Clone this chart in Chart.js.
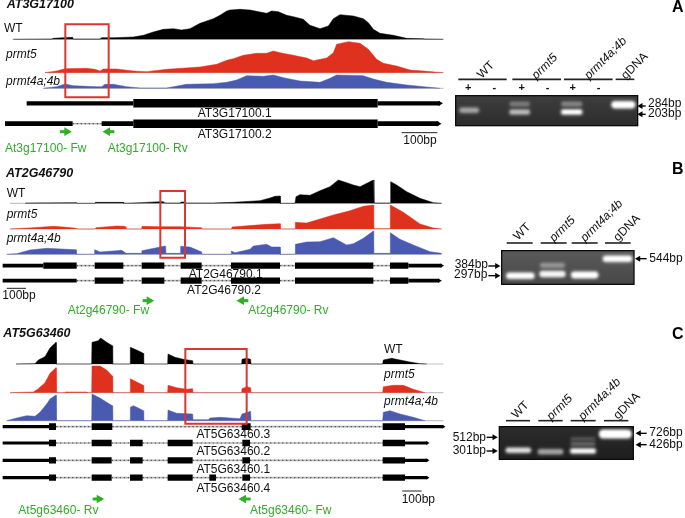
<!DOCTYPE html>
<html><head><meta charset="utf-8">
<style>html,body{margin:0;padding:0;background:#fff}canvas{display:block;filter:blur(0.35px)}</style>
<script src="https://cdn.jsdelivr.net/npm/chart.js@4"></script></head>
<body><canvas id="c" width="685" height="518"></canvas>
<script>
// ---- coverage, panel A (position along gene, relative read depth)
const aPosWT=[40,155,160,190,218,220,300,305,345,400,430,460,490,520,545,570,600,640,660,680,690,720,750,780,800,815,835,860,880,910,930,960,985,1000,1020,1060,1090,1105,1120,1140,1180,1220,1270,1275,1330];
const aWT=[0,1,3,5,6,1,1,5,5,7,12,22,30,32,28,32,48,62,72,85,88,90,88,82,78,85,83,72,68,60,42,32,40,62,74,70,62,50,30,18,12,3,2,1,0];
const aPosP5=[135,170,195,260,285,300,310,350,400,440,500,600,650,680,700,730,770,800,820,840,880,920,940,980,1000,1010,1045,1080,1105,1130,1150,1190,1230,1280,1330];
const aP5=[0,5,12,13,10,5,11,11,5,3,10,17,25,37,42,52,58,58,65,60,52,44,36,44,60,85,93,88,70,40,28,20,8,4,0];
const aPosP4=[130,170,195,220,260,290,305,315,340,380,420,500,560,640,680,710,740,790,820,850,900,960,990,1010,1090,1120,1160,1220,1280,1320];
const aP4=[0,5,13,8,6,5,5,12,12,5,1,1,12,14,18,25,38,36,40,32,22,18,30,40,38,28,18,10,4,0];
// ---- coverage, panel B
const bPosWT=[75,80,230,231,285,286,370,371,425,480,490,495,540,542,555,560,640,700,780,810,825,840,841,885,888,900,930,960,990,1015,1040,1060,1080,1120,1122,1170,1172,1190,1220,1260,1300,1325];
const bWT=[0,1,2,0,0,3,3,0,2,5,5,1,1,4,4,1,1,3,8,16,21,22,0,0,20,26,24,38,50,70,62,55,50,70,1,1,65,55,35,15,2,0];
const bPosP5=[30,100,160,200,228,230,285,288,350,375,378,425,426,480,540,605,606,695,696,760,800,840,841,885,886,920,960,1000,1050,1090,1120,1121,1170,1171,1210,1260,1300,1325];
const bP5=[0,4,8,5,2,0,0,4,9,8,0,0,8,7,7,4,0,0,6,11,14,16,0,0,20,18,30,42,55,68,72,1,1,72,50,15,3,0];
const bPosP4=[20,50,90,140,200,228,229,283,284,300,350,365,378,425,426,480,495,497,540,542,570,605,606,693,694,705,750,760,800,815,840,841,885,886,920,960,1000,1040,1060,1090,1120,1121,1170,1171,1200,1240,1290,1325];
const bP4=[0,2,13,18,15,14,0,0,14,7,11,12,3,3,11,22,25,3,3,24,22,7,0,0,10,5,15,25,30,22,22,0,0,30,37,38,50,28,32,48,70,3,3,65,45,28,8,3];
// ---- coverage, panel C
const cPosWT=[48,105,115,135,150,168,169,275,276,295,302,320,337,338,390,391,410,430,431,503,504,525,550,578,579,725,726,740,752,753,1148,1150,1175,1200,1230,1260,1280];
const cWT=[0,1,12,22,48,65,0,0,65,70,78,65,55,0,0,50,42,32,0,0,30,20,14,10,0,0,14,17,14,0,0,12,17,12,6,1,0];
const cPosP5=[30,100,115,135,150,168,169,195,196,260,261,275,276,300,320,337,338,390,391,410,430,431,503,504,530,560,578,579,725,726,740,752,753,1148,1150,1180,1210,1240,1275];
const cP5=[0,2,12,30,58,75,0,0,2,2,0,0,80,80,68,50,0,0,42,32,22,0,0,22,15,10,12,0,0,12,18,15,0,0,18,22,22,10,0];
const cPosP4=[20,50,80,105,120,140,150,168,169,275,276,300,320,337,338,390,391,400,415,430,431,503,504,530,578,579,625,630,660,720,726,752,753,1148,1150,1170,1200,1240,1275];
const cP4=[0,8,15,13,25,50,65,77,0,0,80,68,55,45,0,0,40,45,38,30,0,0,32,22,20,3,3,8,10,6,20,28,0,0,25,30,20,10,0];
// ---- transcripts: exon spans [start,end]
const aUtr1=[[80,400],[1133,1320]], aCds1=[[400,1133]], aIntron1=[];
const aUtr2=[[15,218],[305,400],[1133,1315]], aCds2=[[400,1133]], aIntron2=[[218,305]];
const bCds=[[284,370],[425,493],[542,605],[693,840],[885,1120],[1170,1225]];
const bUtr1=[[8,130],[1225,1325]], bCds1=[[130,230],...bCds], bIntron1=[[230,284],[370,425],[493,542],[605,693],[840,885],[1120,1170]];
const bUtr2=[[8,230],[1225,1318]], bCds2=bCds, bIntron2=bIntron1;
const cUtr3=[[8,147],[1215,1330]], cCds3=[[147,168],[275,337],[725,752],[1148,1215]], cIntron3=[[168,275],[337,725],[752,1148]];
const cUtrO=[[8,147],[1215,1282]];
const cCdsO=[[147,168],[275,335],[390,428],[503,578],[727,750],[1148,1215]];
const cIntronO=[[168,275],[335,390],[428,503],[578,727],[750,1148]];
const cCds4=[[147,168],[275,335],[390,428],[503,578],[628,648],[727,750],[1148,1215]];
const cIntron4=[[168,275],[335,390],[428,503],[578,628],[648,727],[750,1148]];
// ---- gel bands: start, end, centre, thickness, brightness
const gelAx0=[28,178,178,333,333,487], gelAx1=[87,240,240,397,397,553], gelAy=[331,312,336,312,336,314], gelAh=[12,11,12,11,12,18], gelAg=[165,125,185,135,255,255];
const gelBx0=[170,270,270,365,460], gelBx1=[252,345,345,443,545], gelBy=[347,316,342,345,296], gelBh=[15,11,15,16,15], gelBg=[255,150,245,255,255];
const gelCx0=[167,263,360,360,360,452], gelCx1=[243,340,438,438,438,540], gelCy=[361,365,363,342,327,312], gelCh=[12,12,12,8,8,22], gelCg=[225,165,245,105,85,255];
// ---- text
const sampleNames=["WT","prmt5","prmt4a;4b"], laneNames=["WT","prmt5","prmt4a;4b","gDNA"];
const geneNames=["AT3G17100","AT2G46790","AT5G63460"];

const ORANGE_RED="#e0301e", RED_BOX="#dd3530", BLUE="#4a5ab0", GREEN="#2fae27", GRAY="#c4c4c4";
const font='"Liberation Sans", Arial, sans-serif';
const W=685,H=518;
const scales={x:{type:'linear',display:false,min:0,max:W*3},
  gx:{type:'linear',display:false,min:-450*3,max:(W-450)*3},
  y:{type:'linear',display:false}};
// y scale for a track with zero at baseline (px)
function ySc(id,b){scales[id]={type:'linear',display:false,min:-(H-b)*3,max:b*3};return id;}
// page-type y scale (grows downward) with origin at px
function yDown(id,o){scales[id]={type:'linear',display:false,reverse:true,min:-o*3,max:(H-o)*3};return id;}
yDown('ya',0);yDown('yb',165);yDown('yc',325);yDown('ga',0);yDown('gb',160);yDown('gc',330);
const ds=[];
function zip(xs,ys){return xs.map((x,i)=>({x,y:ys[i]}));}
function track(id,b,xs,ys,col,x0,x1){
  ySc(id,b);
  ds.push({data:[{x:x0,y:0},{x:x1,y:0}],yAxisID:id,borderColor:GRAY,borderWidth:1.2,pointRadius:0,order:9});
  ds.push({data:zip(xs,ys),yAxisID:id,borderColor:col,backgroundColor:col,borderWidth:0.5,pointRadius:0,fill:{value:0},tension:0,order:8});
}
function spans(arr){const o=[];arr.forEach(s=>{o.push({x:s[0],y:0},{x:s[1],y:0},{x:s[1],y:null});});return o;}
function transcript(id,b,utr,cds,intron,thin,thick){
  ySc(id,b);
  if(intron.length){
    ds.push({data:spans(intron),yAxisID:id,borderColor:'#b8b8b8',borderWidth:1.6,pointRadius:0,order:7});
    ds.push({data:spans(intron),yAxisID:id,borderColor:'#555',borderWidth:1.2,borderDash:[1.4,2.6],pointRadius:0,order:6});
  }
  ds.push({data:spans(utr),yAxisID:id,borderColor:'#000',borderWidth:thin,pointRadius:0,order:5});
  ds.push({data:spans(cds),yAxisID:id,borderColor:'#000',borderWidth:thick,pointRadius:0,order:4});
  const last=utr[utr.length-1][1];
  ds.push({data:[{x:last,y:0}],yAxisID:id,pointStyle:'triangle',rotation:90,pointRadius:thin*0.7,backgroundColor:'#000',borderWidth:0,showLine:false,order:4});
}
function seg(x0,x1,y,yid,col,w,xid){ds.push({data:[{x:x0,y},{x:x1,y}],xAxisID:xid||'x',yAxisID:yid,borderColor:col,borderWidth:w,pointRadius:0,order:3});}
function arrow(x0,x1,y,yid,col,w,r,right,xid){
  seg(x0,x1,y,yid,col,w,xid);
  ds.push({data:[{x:right?x1-r*1.5:x0+r*1.5,y}],xAxisID:xid||'x',yAxisID:yid,pointStyle:'triangle',rotation:right?90:270,pointRadius:r,backgroundColor:col,borderWidth:0,showLine:false,order:3});
}
function box(x0,x1,y0,y1,yid){
  ds.push({data:[{x:x0,y:y0},{x:x1,y:y0},{x:x1,y:y1},{x:x0,y:y1},{x:x0,y:y0}],yAxisID:yid,borderColor:RED_BOX,borderWidth:2,pointRadius:0,order:1,borderJoinStyle:'miter',borderCapStyle:'square'});
}
function gelBands(x0,x1,y,h,g,yid){
  x0.forEach((_,i)=>{
    const v=g[i];
    ds.push({data:[{x:x0[i]+8,y:y[i]},{x:x1[i]-8,y:y[i]}],xAxisID:'gx',yAxisID:yid,borderColor:`rgba(${v},${v},${v},0.5)`,borderWidth:h[i]/3+3,borderCapStyle:'round',pointRadius:0,order:2,blur:1.8,gel:1});
    ds.push({data:[{x:x0[i]+8,y:y[i]},{x:x1[i]-8,y:y[i]}],xAxisID:'gx',yAxisID:yid,borderColor:`rgb(${v},${v},${v})`,borderWidth:h[i]/3,borderCapStyle:'round',pointRadius:0,order:1.5,blur:0.8,gel:1});
  });
}
// tracks
track('a1',118/3,aPosWT,aWT,'#000',38,1330);
track('a2',218/3,aPosP5,aP5,ORANGE_RED,135,1330);
track('a3',265/3,aPosP4,aP4,BLUE,130,1330);
track('b1',165+115/3,bPosWT,bWT,'#000',30,1325);
track('b2',165+192/3,bPosP5,bP5,ORANGE_RED,30,1325);
track('b3',165+268/3,bPosP4,bP4,BLUE,20,1325);
track('c1',325+117/3,cPosWT,cWT,'#000',48,1330);
track('c2',325+203/3,cPosP5,cP5,ORANGE_RED,30,1330);
track('c3',325+287/3,cPosP4,cP4,BLUE,20,1330);
// transcripts
transcript('at1',310/3,aUtr1,aCds1,aIntron1,4.2,8.5);
transcript('at2',371/3,aUtr2,aCds2,aIntron2,4.6,8.5);
transcript('bt1',165+302/3,bUtr1,bCds1,bIntron1,3.6,6.2);
transcript('bt2',165+347/3,bUtr2,bCds2,bIntron2,3.6,6.2);
transcript('ct1',325+305/3,cUtr3,cCds3,cIntron3,3.2,6.8);
transcript('ct2',325+354/3,cUtrO,cCdsO,cIntronO,3.2,6.4);
transcript('ct3',325+406/3,cUtrO,cCdsO,cIntronO,3.2,6.4);
transcript('ct4',325+458/3,cUtrO,cCds4,cIntron4,3.2,6.4);
// highlight boxes, scale bars, primers
box(196,326,73,292,'ya');box(481,555,78,278,'yb');box(556,740,72,296,'yc');
seg(1205,1312,398,'ya','#222',1);seg(20,78,370,'yb','#222',1);seg(1207,1265,498,'yc','#222',1);
arrow(180,208,395,'ya',GREEN,3,5,true);arrow(315,343,395,'ya',GREEN,3,5,false);
arrow(428,455,407,'yb',GREEN,3,5,true);arrow(717,745,407,'yb',GREEN,3,5,false);
arrow(278,305,522,'yc',GREEN,3,5,true);arrow(723,752,522,'yc',GREEN,3,5,false);
// gels
gelBands(gelAx0,gelAx1,gelAy,gelAh,gelAg,'ga');
gelBands(gelBx0,gelBx1,gelBy,gelBh,gelBg,'gb');
gelBands(gelCx0,gelCx1,gelCy,gelCh,gelCg,'gc');
[[25,170],[187,333],[342,488],[497,553]].forEach(s=>seg(s[0],s[1],238,'ga','#222',1.6,'gx'));
[[170,248],[272,350],[365,443],[465,542]].forEach(s=>seg(s[0],s[1],249,'gb','#222',1.6,'gx'));
[[168,240],[265,338],[362,437],[462,535]].forEach(s=>seg(s[0],s[1],272,'gc','#222',1.6,'gx'));
arrow(567,587,318,'ga','#000',1.4,3.5,false,'gx');arrow(567,587,343,'ga','#000',1.4,3.5,false,'gx');
arrow(115,146,318,'gb','#000',1.4,3.5,true,'gx');arrow(115,146,347,'gb','#000',1.4,3.5,true,'gx');arrow(560,590,296,'gb','#000',1.4,3.5,false,'gx');
arrow(110,138,322,'gc','#000',1.4,3.5,true,'gx');arrow(110,138,363,'gc','#000',1.4,3.5,true,'gx');
arrow(562,590,310,'gc','#000',1.4,3.5,false,'gx');arrow(562,590,344,'gc','#000',1.4,3.5,false,'gx');

// labels: text, x px, y px, align, style, size, colour, rotation
const Z=1/3;
const labels=[];
function T(t,x,y,o){labels.push(Object.assign({t,x,y,a:'left',s:'',f:12,c:'#111',r:0},o||{}));}
const it={s:'italic'};
T(geneNames[0],20*Z,15*Z,{s:'italic bold',f:12.5});
T(geneNames[1],18*Z,165+25*Z,{s:'italic bold',f:12.5});
T(geneNames[2],10*Z,325+25*Z,{s:'italic bold',f:12.5});
T(sampleNames[0],12*Z,85*Z);T(sampleNames[1],18*Z,165*Z,it);T(sampleNames[2],18*Z,245*Z,it);
T(sampleNames[0],20*Z,165+85*Z);T(sampleNames[1],20*Z,165+150*Z,it);T(sampleNames[2],20*Z,165+222*Z,it);
T(sampleNames[0],1152*Z,325+75*Z);T(sampleNames[1],1152*Z,325+150*Z,it);T(sampleNames[2],1152*Z,325+230*Z,it);
const cc={a:'center'};
T("AT3G17100.1",704*Z,342*Z,cc);T("AT3G17100.2",704*Z,405*Z,cc);
T("AT2G46790.1",677*Z,165+328*Z,cc);T("AT2G46790.2",672*Z,165+376*Z,cc);
T("AT5G63460.3",700*Z,325+330*Z,cc);T("AT5G63460.2",700*Z,325+381*Z,cc);T("AT5G63460.1",700*Z,325+434*Z,cc);T("AT5G63460.4",700*Z,325+490*Z,cc);
T("100bp",1260*Z,422*Z,cc);T("100bp",57*Z,165+393*Z,cc);T("100bp",1255*Z,325+525*Z,cc);
const gr={c:GREEN};
T("At3g17100- Fw",15*Z,447*Z,gr);T("At3g17100- Rv",323*Z,447*Z,gr);
T("At2g46790- Fw",203*Z,165+437*Z,gr);T("At2g46790- Rv",745*Z,165+437*Z,gr);
T("At5g63460- Rv",55*Z,325+558*Z,gr);T("At5g63460- Fw",750*Z,325+558*Z,gr);
function gelLab(o,list){list.forEach(l=>T(l[0],450+l[1]*Z,o+l[2]*Z,{r:-45,f:12,s:l[3]||''}));}
gelLab(0,[[laneNames[0],88,230],[laneNames[1],252,232,'italic'],[laneNames[2],410,232,'italic'],[laneNames[3],520,232]]);
gelLab(160,[[laneNames[0],197,235],[laneNames[1],305,240,'italic'],[laneNames[2],398,240,'italic'],[laneNames[3],497,238]]);
gelLab(330,[[laneNames[0],192,260],[laneNames[1],297,265,'italic'],[laneNames[2],392,265,'italic'],[laneNames[3],497,262]]);
["+","-","+","-","+","-"].forEach((p,i)=>T(p,450+[55,133,215,293,368,446][i]*Z,263*Z,{a:'center',f:11,s:'bold'}));
T("284bp",450+594*Z,310*Z);T("203bp",450+594*Z,342*Z);
T("384bp",450+14*Z,160+315*Z);T("297bp",450+12*Z,160+345*Z);T("544bp",450+598*Z,160+296*Z);
T("512bp",450+8*Z,330+322*Z);T("301bp",450+8*Z,330+363*Z);T("726bp",450+598*Z,330+307*Z);T("426bp",450+598*Z,330+344*Z);
T("A",450+683*Z,22*Z,{a:'center',s:'bold',f:16,c:'#000'});
T("B",450+683*Z,160+28*Z,{a:'center',s:'bold',f:16,c:'#000'});
T("C",450+683*Z,330+15*Z,{a:'center',s:'bold',f:16,c:'#000'});

const gels=[[17,563,287,377,'ga','#3e3e3e','#2c2c2c'],[155,552,272,373,'gb','#5a5a5a','#474747'],[148,550,290,388,'gc','#2c2c2c','#1e1e1e']];
const plugin={id:'fig',
  beforeDatasetsDraw(ch){const c=ch.ctx;c.save();
    gels.forEach(g=>{const xs=ch.scales.gx,ys=ch.scales[g[4]];
      const x0=xs.getPixelForValue(g[0]),x1=xs.getPixelForValue(g[1]),y0=ys.getPixelForValue(g[2]),y1=ys.getPixelForValue(g[3]);
      const gr=c.createLinearGradient(0,y0,0,y1);gr.addColorStop(0,g[5]);gr.addColorStop(1,g[6]);
      c.fillStyle=gr;c.fillRect(x0,y0,x1-x0,y1-y0);c.strokeStyle='#0a0a0a';c.lineWidth=1.3;c.strokeRect(x0,y0,x1-x0,y1-y0);});
    c.restore();},
  beforeDatasetDraw(ch,a){const d=ch.data.datasets[a.index];const c=ch.ctx;
    if(d.gel){c.save();c.filter=`blur(${d.blur}px)`;}},
  afterDatasetDraw(ch,a){const d=ch.data.datasets[a.index];if(d.gel)ch.ctx.restore();},
  afterDraw(ch){const c=ch.ctx;c.save();c.textBaseline='middle';
    labels.forEach(l=>{c.save();c.translate(l.x,l.y);if(l.r)c.rotate(l.r*Math.PI/180);
      c.font=`${l.s} ${l.f}px ${font}`;c.fillStyle=l.c;c.textAlign=l.r?'left':l.a;c.fillText(l.t,0,0);c.restore();});
    c.restore();}
};
new Chart(document.getElementById('c'),{type:'line',data:{datasets:ds},plugins:[plugin],
 options:{responsive:false,animation:false,devicePixelRatio:1,layout:{padding:0,autoPadding:false},
  parsing:{xAxisKey:'x',yAxisKey:'y'},
  plugins:{legend:{display:false},tooltip:{enabled:false},title:{display:false}},
  elements:{line:{tension:0}},scales}});
</script></body></html>
